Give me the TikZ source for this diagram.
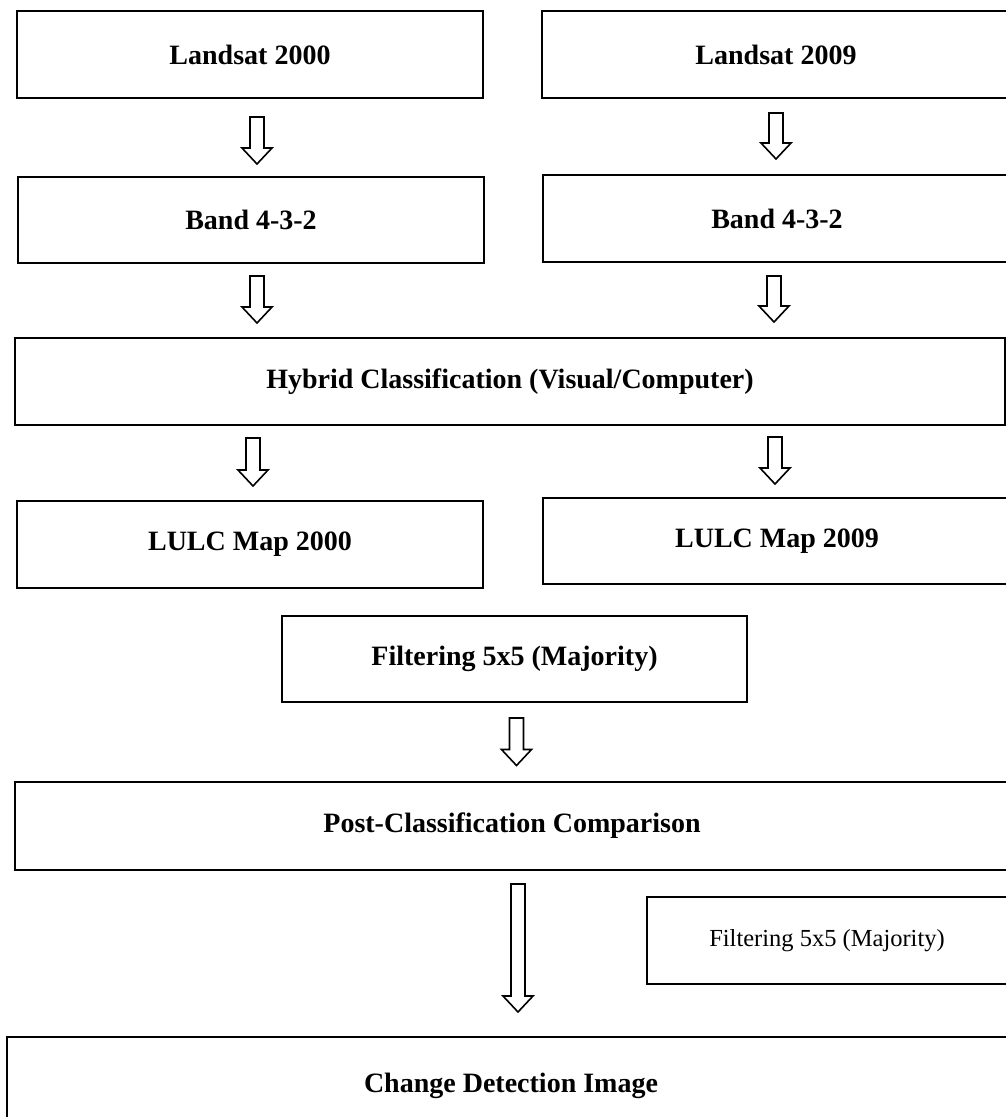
\documentclass[tikz,border=0pt]{standalone}
\usepackage{fontspec}
\setmainfont{Liberation Serif}
\usetikzlibrary{calc}
\tikzset{
  flowbox/.style={draw=black, line width=2.4pt, rectangle, inner sep=0pt, fill=white,
    font=\fontsize{28}{32}\selectfont\bfseries},
  plainbox/.style={flowbox, font=\fontsize{24.5}{28}\selectfont\mdseries},
  hollow/.style={draw=black, fill=white, line width=1.6pt, line join=miter}
}
\newcommand\hollowarrow[2]{%
  \draw[hollow] let \p1=(#1), \p2=(#2) in
    (\x1-7pt,\y1) -- (\x1+7pt,\y1) -- (\x1+7pt,\y2+16pt) -- (\x1+15pt,\y2+16pt)
    -- (\x1,\y2) -- (\x1-15pt,\y2+16pt) -- (\x1-7pt,\y2+16pt) -- cycle;}
\begin{document}
\begin{tikzpicture}[x=1pt,y=-1pt]
\useasboundingbox (0,0) rectangle (1006,1117);
\clip (0,0) rectangle (1006,1117);
\fill[white] (0,0) rectangle (1006,1117);

% boxes
\node[flowbox, minimum width=466pt, minimum height=87pt] (l2000) at (250,54.5) {Landsat 2000};
\node[flowbox, minimum width=468pt, minimum height=87pt] (l2009) at (776,54.5) {Landsat 2009};
\node[flowbox, minimum width=466pt, minimum height=86pt] (b2000) at (251,220) {Band 4-3-2};
\node[flowbox, minimum width=468pt, minimum height=87pt] (b2009) at (777,218.5) {Band 4-3-2};
\node[flowbox, minimum width=990pt, minimum height=87pt] (hyb) at (510,381.5) {Hybrid Classification (Visual/Computer)};
\node[flowbox, minimum width=466pt, minimum height=87pt] (m2000) at (250,544.5) {LULC Map 2000};
\node[flowbox, minimum width=468pt, minimum height=86pt] (m2009) at (777,541) {LULC Map 2009};
\node[flowbox, minimum width=465pt, minimum height=86pt] (filt) at (514.5,659) {Filtering 5x5 (Majority)};
\node[flowbox, minimum width=994pt, minimum height=88pt] (post) at (512,826) {Post-Classification Comparison};
\node[plainbox, minimum width=360pt, minimum height=87pt] (filt2) at (827,940.5) {Filtering 5x5 (Majority)};
\node[flowbox, minimum width=1008pt, minimum height=98pt] (chg) at (511,1086) {Change Detection Image};

% arrow end points
\coordinate (a1s) at (257,117);   \coordinate (a1e) at (257,164);
\coordinate (a2s) at (776,113);   \coordinate (a2e) at (776,159);
\coordinate (a3s) at (257,276);   \coordinate (a3e) at (257,323);
\coordinate (a4s) at (774,276);   \coordinate (a4e) at (774,322);
\coordinate (a5s) at (253,438);   \coordinate (a5e) at (253,486);
\coordinate (a6s) at (775,437);   \coordinate (a6e) at (775,484);
\coordinate (a7s) at (516.5,718); \coordinate (a7e) at (516.5,765.5);
\coordinate (a8s) at (518,884);   \coordinate (a8e) at (518,1012);

\hollowarrow{a1s}{a1e}
\hollowarrow{a2s}{a2e}
\hollowarrow{a3s}{a3e}
\hollowarrow{a4s}{a4e}
\hollowarrow{a5s}{a5e}
\hollowarrow{a6s}{a6e}
\hollowarrow{a7s}{a7e}
\hollowarrow{a8s}{a8e}
\end{tikzpicture}
\end{document}
